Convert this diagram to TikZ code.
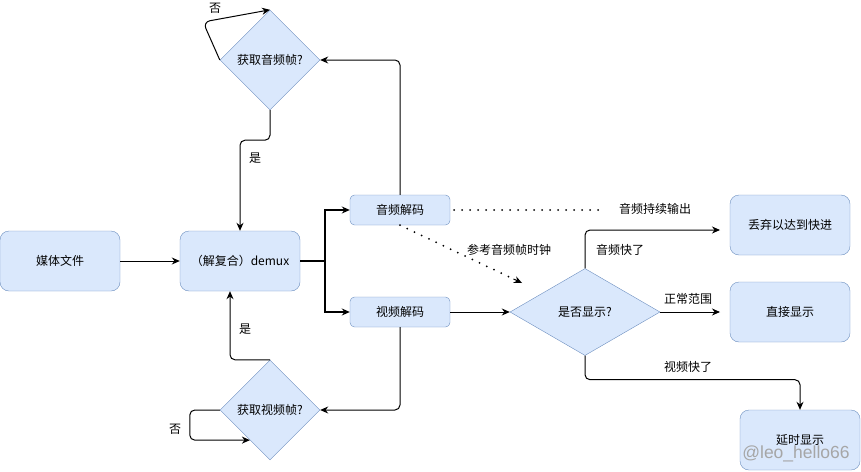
\documentclass[tikz,border=0pt]{standalone}
\usepackage{fontspec}
\setmainfont{Noto Sans CJK SC}
\newfontfamily\wmfont{Liberation Sans}
\usetikzlibrary{shapes.geometric,arrows.meta,calc}
\definecolor{bfill}{HTML}{DAE8FC}
\definecolor{bdraw}{HTML}{6C8EBF}
\tikzset{
  box/.style={draw=bdraw,fill=bfill,rounded corners=9pt,minimum width=120pt,minimum height=60pt,inner sep=0pt,font=\fontsize{12}{14}\selectfont},
  sbox/.style={draw=bdraw,fill=bfill,rounded corners=4.5pt,minimum width=100pt,minimum height=30pt,inner sep=0pt,font=\fontsize{12}{14}\selectfont},
  dia/.style={draw=bdraw,fill=bfill,diamond,inner sep=0pt,font=\fontsize{12}{14}\selectfont},
  conn/.style={draw=black,line width=1pt,rounded corners=5pt,-{Stealth[length=8pt,width=7pt]}},
  dotline/.style={line width=2pt,line cap=round,dash pattern=on 0pt off 8pt},
  lbl/.style={font=\fontsize{12}{14}\selectfont,inner sep=0pt},
}
\begin{document}
\begin{tikzpicture}[x=1pt,y=-1pt]
\useasboundingbox (0,0) rectangle (861,471);
% nodes
\node[box] (media) at (60,261) {媒体文件};
\node[box] (demux) at (240,261) {（解复合）demux};
\node[sbox] (adec) at (400,210) {音频解码};
\node[sbox] (vdec) at (400,312) {视频解码};
\node[dia,minimum width=100pt,minimum height=100pt] (qa) at (270,60) {获取音频帧?};
\node[dia,minimum width=100pt,minimum height=100pt] (qv) at (270,410) {获取视频帧?};
\node[dia,minimum width=150pt,minimum height=87pt] (disp) at (585,312) {是否显示?};
\node[box] (drop) at (790,225) {丢弃以达到快进};
\node[box] (direct) at (790,312) {直接显示};
\node[box] (delay) at (800,440) {延时显示};
% free ends
\coordinate (split) at (325,261);
\coordinate (aout) at (605,210);
\coordinate (clk) at (522,283);
\coordinate (dropin) at (720,230);
\coordinate (directin) at (720,312);
% connectors
\draw[conn] (media.east) -- (demux.west);
\draw[line width=2pt] (demux.east) -- (split);
\draw[conn,line width=2pt,rounded corners=0pt] (split) |- (adec.west);
\draw[conn,line width=2pt,rounded corners=0pt] (split) |- (vdec.west);
\draw[conn] (adec.north) |- (qa.east);
\draw[conn] (qa.south) -- ++(0,30) -| (demux.north);
\draw[conn,rounded corners=7pt] (qa.west) -- (203,22) -- (qa.north);
\node[lbl] (no1) at (215,8) {否};
\node[lbl] (yes1) at (255,158) {是};
\draw[conn] (vdec.south) |- (qv.east);
\draw[conn] (qv.north) -| ([xshift=-10pt]demux.south);
\node[lbl] (yes2) at (245,329) {是};
\draw[conn] (qv.west) -- ++(-30,0) |- ($(qv.west)!0.6!(qv.south)$);
\node[lbl] (no2) at (175,429) {否};
\draw[conn] (vdec.east) -- (disp.west);
\draw[dotline] ([xshift=4pt]adec.east) -- (aout);
\node[lbl] (alabel) at (655,209) {音频持续输出};
\draw[dotline] (adec.south) -- ($(adec.south)!0.93!(clk)$);
\draw[-{Stealth[length=8pt,width=7pt]},line width=1pt] ($(adec.south)!0.93!(clk)$) -- (clk);
\node[lbl] (clabel) at (509,250) {参考音频帧时钟};
\draw[conn] (disp.north) |- (dropin);
\node[lbl] (fastA) at (620,250) {音频快了};
\draw[conn] (disp.east) -- (directin);
\node[lbl] (normal) at (688,299) {正常范围};
\draw[conn] (disp.south) -- ++(0,24) -| (delay.north);
\node[lbl] (fastV) at (688,367) {视频快了};
\node[font=\wmfont\fontsize{17.5}{20}\selectfont,text=black!35,inner sep=0pt] (wm) at (796,454) {@leo\_hello66};
\end{tikzpicture}
\end{document}
